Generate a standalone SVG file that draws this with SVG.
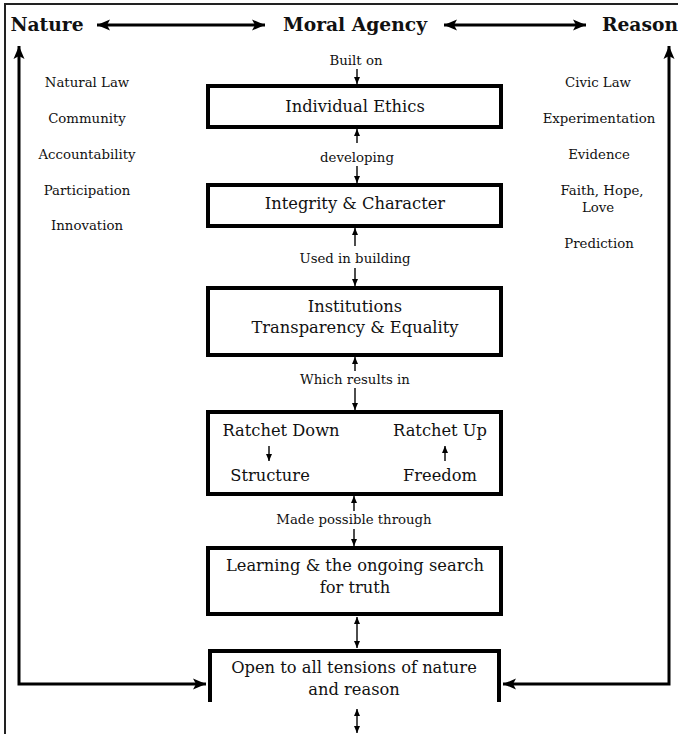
<svg xmlns="http://www.w3.org/2000/svg" width="678" height="734" viewBox="0 0 678 734">
<style>
text{font-family:"DejaVu Serif","Liberation Serif",serif;fill:#111;text-anchor:middle}
.h{font-weight:bold;font-size:18.7px}
.b{font-size:16.3px}
.s{font-size:13.3px}
.side{font-size:13.3px}
.box{fill:#fff;stroke:#000;stroke-width:4}
.thin{stroke:#000;stroke-width:1.4;fill:none}
.thick{stroke:#000;stroke-width:3;fill:none}
</style>
<defs>
<marker id="sa" markerUnits="userSpaceOnUse" markerWidth="8" markerHeight="8" refX="7" refY="4" orient="auto-start-reverse"><path d="M0,1 L7,4 L0,7 Z" fill="#000"/></marker>
<marker id="la" markerUnits="userSpaceOnUse" markerWidth="14" markerHeight="12" refX="13" refY="6" orient="auto-start-reverse"><path d="M0,0.5 L13,6 L0,11.5 L3,6 Z" fill="#000"/></marker>
</defs>
<rect width="678" height="734" fill="#fff"/>
<g id="frame"><path d="M5,734 V4 H678" fill="none" stroke="#222" stroke-width="2"/></g>

<g id="nature"><text class="h" x="47" y="31">Nature</text></g>
<g id="moral-agency"><text class="h" x="355" y="31">Moral Agency</text></g>
<g id="reason"><text class="h" x="640" y="31">Reason</text></g>

<g id="nature-list">
<text class="side" x="87" y="87">Natural Law</text>
<text class="side" x="87" y="123">Community</text>
<text class="side" x="87" y="159">Accountability</text>
<text class="side" x="87" y="195">Participation</text>
<text class="side" x="87" y="230">Innovation</text>
</g>
<g id="reason-list">
<text class="side" x="598" y="87">Civic Law</text>
<text class="side" x="599" y="123">Experimentation</text>
<text class="side" x="599" y="159">Evidence</text>
<text class="side" x="602" y="195">Faith, Hope,</text>
<text class="side" x="598" y="212">Love</text>
<text class="side" x="599" y="248">Prediction</text>
</g>

<g id="individual-ethics"><rect class="box" x="208" y="86" width="293" height="41"/><text class="b" x="355" y="112">Individual Ethics</text></g>
<g id="integrity-character"><rect class="box" x="208" y="185" width="293" height="41"/><text class="b" x="355" y="209">Integrity &amp; Character</text></g>
<g id="institutions"><rect class="box" x="208" y="288" width="293" height="67"/><text class="b" x="355" y="312">Institutions</text><text class="b" x="355" y="333">Transparency &amp; Equality</text></g>
<g id="ratchet"><rect class="box" x="208" y="412" width="293" height="82"/>
<text class="b" x="281" y="436">Ratchet Down</text><text class="b" x="440" y="436">Ratchet Up</text>
<text class="b" x="270" y="481">Structure</text><text class="b" x="440" y="481">Freedom</text>
<line class="thin" x1="269" y1="446" x2="269" y2="461" marker-end="url(#sa)"/>
<line class="thin" x1="445" y1="461" x2="445" y2="446" marker-end="url(#sa)"/>
</g>
<g id="learning"><rect class="box" x="208" y="548" width="293" height="66"/><text class="b" x="355" y="571">Learning &amp; the ongoing search</text><text class="b" x="355" y="593">for truth</text></g>
<g id="open-tensions"><path class="box" d="M210,702 V651 H499 V702" fill="none"/><text class="b" x="354" y="673">Open to all tensions of nature</text><text class="b" x="354" y="695">and reason</text></g>

<g id="connectors">
<line class="thick" x1="97" y1="25" x2="265" y2="25" marker-start="url(#la)" marker-end="url(#la)"/>
<line class="thick" x1="444" y1="25" x2="586" y2="25" marker-start="url(#la)" marker-end="url(#la)"/>
<path class="thick" d="M19,46 V684 H206" marker-start="url(#la)" marker-end="url(#la)"/>
<path class="thick" d="M669,46 V684 H503" marker-start="url(#la)" marker-end="url(#la)"/>
<text class="s" x="356" y="65">Built on</text>
<line class="thin" x1="357" y1="69" x2="357" y2="84" marker-end="url(#sa)"/>
<line class="thin" x1="357" y1="143" x2="357" y2="129" marker-end="url(#sa)"/>
<text class="s" x="357" y="162">developing</text>
<line class="thin" x1="357" y1="166" x2="357" y2="183" marker-end="url(#sa)"/>
<line class="thin" x1="355" y1="246" x2="355" y2="228" marker-end="url(#sa)"/>
<text class="s" x="355" y="263">Used in building</text>
<line class="thin" x1="355" y1="268" x2="355" y2="286" marker-end="url(#sa)"/>
<line class="thin" x1="355" y1="371" x2="355" y2="357" marker-end="url(#sa)"/>
<text class="s" x="355" y="384">Which results in</text>
<line class="thin" x1="355" y1="388" x2="355" y2="410" marker-end="url(#sa)"/>
<line class="thin" x1="354" y1="511" x2="354" y2="496" marker-end="url(#sa)"/>
<text class="s" x="354" y="524">Made possible through</text>
<line class="thin" x1="354" y1="529" x2="354" y2="546" marker-end="url(#sa)"/>
<line class="thin" x1="357" y1="617" x2="357" y2="648" marker-start="url(#sa)" marker-end="url(#sa)"/>
<line class="thin" x1="357" y1="709" x2="357" y2="733" marker-start="url(#sa)" marker-end="url(#sa)"/>
</g>
</svg>
